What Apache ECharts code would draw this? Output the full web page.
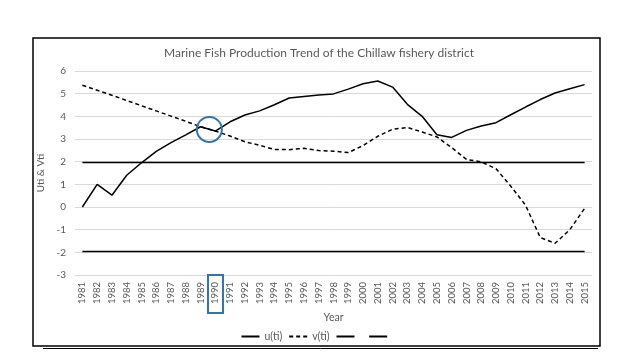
<!DOCTYPE html>
<html>
<head>
<meta charset="utf-8">
<script src="https://cdn.jsdelivr.net/npm/echarts@6/dist/echarts.min.js"></script>
<style>html,body{margin:0;padding:0;background:#fff}#c{width:638px;height:359px}</style>
</head>
<body>
<div id="c"></div>
<script>
const years = ['1981','1982','1983','1984','1985','1986','1987','1988','1989','1990','1991','1992','1993','1994','1995','1996','1997','1998','1999','2000','2001','2002','2003','2004','2005','2006','2007','2008','2009','2010','2011','2012','2013','2014','2015'];
const uti = [0,1.0,0.52,1.4,1.95,2.45,2.84,3.18,3.54,3.35,3.76,4.06,4.24,4.51,4.81,4.88,4.94,4.99,5.2,5.44,5.56,5.29,4.53,4.0,3.19,3.07,3.38,3.57,3.72,4.07,4.41,4.74,5.03,5.22,5.4];
const vti = [5.37,5.15,4.93,4.7,4.47,4.24,4.01,3.78,3.54,3.35,3.13,2.88,2.72,2.54,2.53,2.59,2.49,2.46,2.4,2.71,3.12,3.43,3.51,3.31,3.09,2.62,2.1,1.99,1.69,0.92,0.08,-1.35,-1.6,-1.0,-0.06];
const upperBound = years.map(() => 1.96);
const lowerBound = years.map(() => -1.96);
const yTicks = {min: -3, max: 6, interval: 1};

const chart = echarts.init(document.getElementById('c'));
const font = 'Lato, "Open Sans", sans-serif';
const lineSeries = (name, data, type) => ({
  name, type: 'line', data, symbol: 'none', smooth: false,
  lineStyle: {color: '#000', width: 1.5, type: type || 'solid'},
  itemStyle: {color: '#000'}, z: 3
});
const s1 = lineSeries('u(ti)', uti);
s1.markPoint = {
  symbol: 'circle', symbolSize: 25, symbolOffset: [-6, 0], silent: true,
  itemStyle: {color: 'rgba(0,0,0,0)', borderColor: '#2E75B6', borderWidth: 2},
  label: {show: false},
  data: [{coord: ['1990', 3.42]}]
};
chart.setOption({
  animation: false,
  textStyle: {fontFamily: font},
  title: {
    text: 'Marine Fish Production Trend of the Chillaw fishery district',
    left: 'center', top: 42,
    textStyle: {fontSize: 12, fontWeight: 'normal', color: '#595959', fontFamily: font}
  },
  grid: {left: 75, right: 46, top: 71, bottom: 84},
  legend: {
    bottom: 12, left: 'center', itemWidth: 18, itemHeight: 8, itemGap: 6,
    itemStyle: {opacity: 0},
    textStyle: {fontSize: 10.5, color: '#595959', fontFamily: font},
    data: ['u(ti)', 'v(ti)', ' ', '  ']
  },
  xAxis: {
    type: 'category', data: years, boundaryGap: true,
    name: 'Year', nameLocation: 'middle', nameGap: 33,
    nameTextStyle: {fontSize: 10.5, color: '#595959'},
    axisLine: {show: false}, axisTick: {show: false},
    axisLabel: {rotate: 90, interval: 0, fontSize: 9.5, color: '#595959', margin: 7}
  },
  yAxis: {
    type: 'value', min: yTicks.min, max: yTicks.max, interval: yTicks.interval,
    name: 'Uti & Vti', nameLocation: 'middle', nameGap: 24, nameRotate: 90,
    nameTextStyle: {fontSize: 10, color: '#595959'},
    axisLine: {show: false}, axisTick: {show: false},
    axisLabel: {fontSize: 10, color: '#595959', margin: 9},
    splitLine: {lineStyle: {color: '#d9d9d9', width: 1}}
  },
  series: [
    s1,
    lineSeries('v(ti)', vti, [4, 3]),
    lineSeries(' ', upperBound),
    lineSeries('  ', lowerBound)
  ],
  graphic: [
    {type: 'rect', shape: {x: 33, y: 38, width: 567, height: 308}, style: {fill: 'none', stroke: '#000', lineWidth: 1.5}, silent: true},
    {type: 'line', shape: {x1: 43, y1: 348.5, x2: 598, y2: 348.5}, style: {stroke: '#000', lineWidth: 1}, silent: true},
    {type: 'rect', shape: {x: 208, y: 275, width: 15, height: 38}, style: {fill: 'none', stroke: '#2E75B6', lineWidth: 2}, silent: true, z: 10}
  ]
});
</script>
</body>
</html>
